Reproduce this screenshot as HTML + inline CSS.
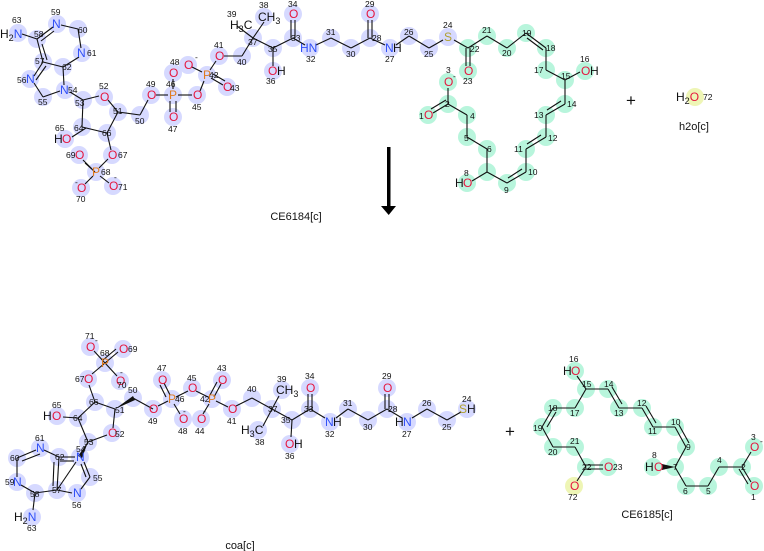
<!DOCTYPE html>
<html><head><meta charset="utf-8"><style>
html,body{margin:0;padding:0;background:#fff;}
svg{display:block;font-family:"Liberation Sans","DejaVu Sans",sans-serif;}
.b line{stroke:#111;stroke-width:1.1;}
.hb circle{fill:#d6d9ff;}
.hg circle{fill:#b8f5dc;}
.n{font-size:8.5px;fill:#111;}
.o{font-size:12px;fill:#e5173f;}
.N{font-size:12px;fill:#3050f8;}
.P{font-size:12px;fill:#e07a1f;}
.S{font-size:12px;fill:#b0a030;}
.k{font-size:12px;fill:#111;}
.plus{font-size:17px;fill:#111;}
.lab{font-size:11px;fill:#111;}
</style></head><body>
<svg width="764" height="551" viewBox="0 0 764 551">
<g class="hb">
<circle cx="18" cy="33" r="9"/><circle cx="37" cy="39" r="9"/><circle cx="57" cy="24" r="9"/><circle cx="78" cy="29" r="9"/><circle cx="82" cy="53" r="9"/><circle cx="63" cy="67" r="9"/><circle cx="43" cy="62" r="9"/><circle cx="30" cy="79" r="9"/><circle cx="43" cy="97" r="9"/><circle cx="65" cy="90" r="9"/><circle cx="83" cy="100" r="9"/><circle cx="104" cy="97" r="9"/><circle cx="118" cy="112" r="9"/><circle cx="140" cy="115" r="9"/><circle cx="151" cy="95" r="9"/><circle cx="173" cy="95" r="9"/><circle cx="173" cy="117" r="9"/><circle cx="173" cy="73" r="9"/><circle cx="197" cy="95" r="9"/><circle cx="207" cy="75" r="9"/><circle cx="227" cy="87" r="9"/><circle cx="188" cy="65" r="9"/><circle cx="219" cy="56" r="9"/><circle cx="242" cy="56" r="9"/><circle cx="253" cy="38" r="9"/><circle cx="264" cy="17" r="9"/><circle cx="273" cy="48" r="9"/><circle cx="273" cy="71" r="9"/><circle cx="293" cy="38" r="9"/><circle cx="293" cy="14" r="9"/><circle cx="310" cy="48" r="9"/><circle cx="331" cy="38" r="9"/><circle cx="351" cy="48" r="9"/><circle cx="370" cy="38" r="9"/><circle cx="370" cy="14" r="9"/><circle cx="390" cy="48" r="9"/><circle cx="409" cy="36" r="9"/><circle cx="429" cy="48" r="9"/><circle cx="448" cy="37" r="9"/><circle cx="82" cy="127" r="9"/><circle cx="65" cy="139" r="9"/><circle cx="107" cy="133" r="9"/><circle cx="112" cy="155" r="9"/><circle cx="96" cy="172" r="9"/><circle cx="79" cy="155" r="9"/><circle cx="81" cy="188" r="9"/><circle cx="113" cy="186" r="9"/>
</g>
<g class="hg">
<circle cx="468" cy="48" r="9"/><circle cx="468" cy="71" r="9"/><circle cx="487" cy="36" r="9"/><circle cx="507" cy="48" r="9"/><circle cx="526" cy="33" r="9"/><circle cx="546" cy="48" r="9"/><circle cx="546" cy="70" r="9"/><circle cx="565" cy="80" r="9"/><circle cx="585" cy="71" r="9"/><circle cx="565" cy="104" r="9"/><circle cx="546" cy="115" r="9"/><circle cx="546" cy="137" r="9"/><circle cx="526" cy="149" r="9"/><circle cx="526" cy="172" r="9"/><circle cx="507" cy="183" r="9"/><circle cx="487" cy="172" r="9"/><circle cx="467" cy="183" r="9"/><circle cx="487" cy="149" r="9"/><circle cx="467" cy="137" r="9"/><circle cx="467" cy="115" r="9"/><circle cx="448" cy="104" r="9"/><circle cx="428" cy="115" r="9"/><circle cx="448" cy="82" r="9"/>
</g>
<circle cx="695" cy="97" r="9" fill="#eef5b5"/>
<g class="hb">
<circle cx="90" cy="347" r="9"/><circle cx="123" cy="349" r="9"/><circle cx="105" cy="363" r="9"/><circle cx="120" cy="381" r="9"/><circle cx="88" cy="379" r="9"/><circle cx="95" cy="402" r="9"/><circle cx="115" cy="409" r="9"/><circle cx="133" cy="398" r="9"/><circle cx="153" cy="409" r="9"/><circle cx="172" cy="399" r="9"/><circle cx="162" cy="380" r="9"/><circle cx="183" cy="419" r="9"/><circle cx="192" cy="388" r="9"/><circle cx="212" cy="399" r="9"/><circle cx="222" cy="380" r="9"/><circle cx="201" cy="419" r="9"/><circle cx="232" cy="409" r="9"/><circle cx="252" cy="398" r="9"/><circle cx="272" cy="409" r="9"/><circle cx="282" cy="390" r="9"/><circle cx="258" cy="430" r="9"/><circle cx="292" cy="420" r="9"/><circle cx="290" cy="444" r="9"/><circle cx="310" cy="409" r="9"/><circle cx="310" cy="388" r="9"/><circle cx="330" cy="422" r="9"/><circle cx="348" cy="409" r="9"/><circle cx="368" cy="420" r="9"/><circle cx="387" cy="409" r="9"/><circle cx="387" cy="388" r="9"/><circle cx="407" cy="422" r="9"/><circle cx="427" cy="409" r="9"/><circle cx="447" cy="420" r="9"/><circle cx="467" cy="409" r="9"/><circle cx="78" cy="418" r="9"/><circle cx="57" cy="416" r="9"/><circle cx="112" cy="433" r="9"/><circle cx="88" cy="442" r="9"/><circle cx="80" cy="457" r="9"/><circle cx="59" cy="457" r="9"/><circle cx="40" cy="448" r="9"/><circle cx="17" cy="458" r="9"/><circle cx="17" cy="482" r="9"/><circle cx="35" cy="493" r="9"/><circle cx="57" cy="490" r="9"/><circle cx="77" cy="493" r="9"/><circle cx="90" cy="477" r="9"/><circle cx="32" cy="517" r="9"/>
</g>
<g class="hg">
<circle cx="575" cy="371" r="9"/><circle cx="586" cy="389" r="9"/><circle cx="608" cy="389" r="9"/><circle cx="619" cy="408" r="9"/><circle cx="642" cy="408" r="9"/><circle cx="653" cy="427" r="9"/><circle cx="675" cy="427" r="9"/><circle cx="686" cy="447" r="9"/><circle cx="675" cy="467" r="9"/><circle cx="653" cy="467" r="9"/><circle cx="686" cy="486" r="9"/><circle cx="708" cy="486" r="9"/><circle cx="719" cy="467" r="9"/><circle cx="742" cy="467" r="9"/><circle cx="754" cy="447" r="9"/><circle cx="754" cy="486" r="9"/><circle cx="575" cy="408" r="9"/><circle cx="553" cy="408" r="9"/><circle cx="542" cy="427" r="9"/><circle cx="553" cy="447" r="9"/><circle cx="575" cy="447" r="9"/><circle cx="586" cy="467" r="9"/><circle cx="608" cy="467" r="9"/>
</g>
<circle cx="574" cy="486" r="9" fill="#eef5b5"/>

<g class="b">
<line x1="22" y1="34" x2="37" y2="39"/><line x1="37" y1="39" x2="53" y2="27"/><line x1="41" y1="41" x2="54" y2="31"/><line x1="61" y1="25" x2="78" y2="29"/><line x1="78" y1="29" x2="81" y2="48"/><line x1="79" y1="57" x2="63" y2="67"/><line x1="63" y1="67" x2="43" y2="62"/><line x1="37" y1="39" x2="43" y2="62"/><line x1="42" y1="44" x2="47" y2="60"/><line x1="43" y1="62" x2="34" y2="76"/><line x1="46" y1="66" x2="36" y2="80"/><line x1="34" y1="83" x2="43" y2="97"/><line x1="43" y1="97" x2="60" y2="91"/><line x1="63" y1="67" x2="64" y2="85"/>
<line x1="70" y1="92" x2="83" y2="100"/><line x1="83" y1="100" x2="99" y2="96"/><line x1="108" y1="100" x2="118" y2="112"/><line x1="83" y1="100" x2="82" y2="127"/><line x1="82" y1="127" x2="107" y2="133"/><line x1="107" y1="133" x2="118" y2="112"/><line x1="118" y1="112" x2="140" y2="115"/><line x1="140" y1="115" x2="148" y2="100"/><line x1="156" y1="95" x2="168" y2="95"/><line x1="170" y1="101" x2="170" y2="112"/><line x1="176" y1="101" x2="176" y2="112"/><line x1="173" y1="89" x2="173" y2="79"/><line x1="178" y1="95" x2="192" y2="95"/><line x1="200" y1="91" x2="204" y2="81"/><line x1="202" y1="72" x2="192" y2="67"/><line x1="211" y1="78" x2="223" y2="85"/><line x1="213" y1="74" x2="225" y2="81"/><line x1="210" y1="70" x2="216" y2="61"/><line x1="224" y1="56" x2="242" y2="56"/><line x1="242" y1="56" x2="253" y2="38"/><line x1="253" y1="38" x2="264" y2="22"/><line x1="253" y1="38" x2="237" y2="26"/><line x1="253" y1="38" x2="273" y2="48"/><line x1="273" y1="48" x2="273" y2="66"/><line x1="273" y1="48" x2="293" y2="38"/><line x1="291" y1="38" x2="291" y2="20"/><line x1="295" y1="38" x2="295" y2="20"/><line x1="293" y1="38" x2="305" y2="45"/><line x1="316" y1="45" x2="331" y2="38"/><line x1="331" y1="38" x2="351" y2="48"/><line x1="351" y1="48" x2="370" y2="38"/><line x1="368" y1="38" x2="368" y2="20"/><line x1="372" y1="38" x2="372" y2="20"/><line x1="370" y1="38" x2="385" y2="45"/><line x1="396" y1="45" x2="409" y2="36"/><line x1="409" y1="36" x2="429" y2="48"/><line x1="429" y1="48" x2="443" y2="40"/><line x1="454" y1="40" x2="468" y2="48"/>
<line x1="86" y1="128" x2="72" y2="137"/><line x1="107" y1="133" x2="111" y2="150"/><line x1="108" y1="159" x2="99" y2="168"/><line x1="92" y1="169" x2="83" y2="160"/><line x1="95" y1="172" x2="85" y2="163"/><line x1="93" y1="176" x2="85" y2="184"/><line x1="100" y1="176" x2="109" y2="183"/>
<line x1="466" y1="48" x2="466" y2="66"/><line x1="470" y1="48" x2="470" y2="66"/><line x1="468" y1="48" x2="487" y2="36"/><line x1="487" y1="36" x2="507" y2="48"/><line x1="507" y1="48" x2="526" y2="33"/><line x1="526" y1="33" x2="546" y2="48"/><line x1="527" y1="38" x2="543" y2="50"/><line x1="546" y1="48" x2="546" y2="70"/><line x1="546" y1="70" x2="565" y2="80"/><line x1="565" y1="80" x2="580" y2="72"/><line x1="565" y1="80" x2="565" y2="104"/><line x1="565" y1="104" x2="546" y2="115"/><line x1="561" y1="101" x2="547" y2="110"/><line x1="546" y1="115" x2="546" y2="137"/><line x1="546" y1="137" x2="526" y2="149"/><line x1="541" y1="135" x2="527" y2="144"/><line x1="526" y1="149" x2="526" y2="172"/><line x1="526" y1="172" x2="507" y2="183"/><line x1="522" y1="169" x2="508" y2="178"/><line x1="507" y1="183" x2="487" y2="172"/><line x1="487" y1="172" x2="472" y2="181"/><line x1="487" y1="172" x2="487" y2="149"/><line x1="487" y1="149" x2="467" y2="137"/><line x1="467" y1="137" x2="467" y2="115"/><line x1="467" y1="115" x2="448" y2="104"/><line x1="448" y1="104" x2="433" y2="113"/><line x1="446" y1="100" x2="431" y2="109"/><line x1="448" y1="104" x2="448" y2="88"/>
<line x1="94" y1="351" x2="105" y2="363"/><line x1="105" y1="363" x2="118" y2="352"/><line x1="103" y1="360" x2="116" y2="349"/><line x1="105" y1="363" x2="117" y2="376"/><line x1="105" y1="363" x2="92" y2="374"/><line x1="89" y1="385" x2="95" y2="402"/><line x1="95" y1="402" x2="115" y2="409"/><line x1="95" y1="402" x2="78" y2="418"/><line x1="78" y1="418" x2="63" y2="417"/><line x1="78" y1="418" x2="88" y2="442"/><line x1="88" y1="442" x2="107" y2="435"/><line x1="113" y1="428" x2="115" y2="409"/><line x1="88" y1="442" x2="82" y2="452"/><line x1="153" y1="409" x2="133" y2="398"/><line x1="158" y1="406" x2="168" y2="401"/><line x1="166" y1="397" x2="160" y2="385"/><line x1="170" y1="395" x2="164" y2="383"/><line x1="174" y1="404" x2="180" y2="414"/><line x1="176" y1="397" x2="188" y2="391"/><line x1="196" y1="391" x2="208" y2="397"/><line x1="210" y1="395" x2="217" y2="382"/><line x1="214" y1="397" x2="221" y2="384"/><line x1="209" y1="404" x2="203" y2="414"/><line x1="216" y1="401" x2="228" y2="407"/><line x1="236" y1="406" x2="252" y2="398"/><line x1="252" y1="398" x2="272" y2="409"/><line x1="272" y1="409" x2="279" y2="396"/><line x1="272" y1="409" x2="263" y2="426"/><line x1="272" y1="409" x2="292" y2="420"/><line x1="292" y1="420" x2="291" y2="437"/><line x1="292" y1="420" x2="310" y2="409"/><line x1="308" y1="409" x2="308" y2="394"/><line x1="312" y1="409" x2="312" y2="394"/><line x1="310" y1="409" x2="325" y2="418"/><line x1="336" y1="418" x2="348" y2="409"/><line x1="348" y1="409" x2="368" y2="420"/><line x1="368" y1="420" x2="387" y2="409"/><line x1="385" y1="409" x2="385" y2="394"/><line x1="389" y1="409" x2="389" y2="394"/><line x1="387" y1="409" x2="402" y2="418"/><line x1="412" y1="418" x2="427" y2="409"/><line x1="427" y1="409" x2="447" y2="420"/><line x1="447" y1="420" x2="461" y2="412"/>
<line x1="76" y1="462" x2="57" y2="490"/><line x1="59" y1="457" x2="75" y2="457"/><line x1="60" y1="461" x2="74" y2="461"/><line x1="59" y1="457" x2="44" y2="450"/><line x1="36" y1="450" x2="17" y2="458"/><line x1="40" y1="454" x2="22" y2="461"/><line x1="17" y1="458" x2="17" y2="477"/><line x1="21" y1="485" x2="35" y2="493"/><line x1="35" y1="493" x2="57" y2="490"/><line x1="57" y1="490" x2="59" y2="457"/><line x1="53" y1="486" x2="54" y2="462"/><line x1="57" y1="490" x2="72" y2="493"/><line x1="81" y1="489" x2="90" y2="477"/><line x1="90" y1="477" x2="84" y2="462"/><line x1="86" y1="477" x2="81" y2="464"/><line x1="35" y1="493" x2="33" y2="510"/>
<line x1="577" y1="376" x2="586" y2="389"/><line x1="586" y1="389" x2="608" y2="389"/><line x1="608" y1="389" x2="619" y2="408"/><line x1="612" y1="387" x2="622" y2="404"/><line x1="619" y1="408" x2="642" y2="408"/><line x1="642" y1="408" x2="653" y2="427"/><line x1="646" y1="406" x2="656" y2="423"/><line x1="653" y1="427" x2="675" y2="427"/><line x1="675" y1="427" x2="686" y2="447"/><line x1="679" y1="425" x2="689" y2="443"/><line x1="686" y1="447" x2="675" y2="467"/><line x1="675" y1="467" x2="686" y2="486"/><line x1="686" y1="486" x2="708" y2="486"/><line x1="708" y1="486" x2="719" y2="467"/><line x1="719" y1="467" x2="742" y2="467"/><line x1="742" y1="467" x2="751" y2="452"/><line x1="742" y1="467" x2="751" y2="482"/><line x1="739" y1="469" x2="748" y2="484"/><line x1="586" y1="389" x2="575" y2="408"/><line x1="575" y1="408" x2="553" y2="408"/><line x1="553" y1="408" x2="542" y2="427"/><line x1="556" y1="412" x2="547" y2="427"/><line x1="542" y1="427" x2="553" y2="447"/><line x1="553" y1="447" x2="575" y2="447"/><line x1="575" y1="447" x2="586" y2="467"/><line x1="586" y1="465" x2="603" y2="465"/><line x1="586" y1="469" x2="603" y2="469"/><line x1="586" y1="467" x2="577" y2="481"/>
</g>
<polygon points="675,467 662,464 662,470" fill="#111"/>
<polygon points="115,409 133,396 135,400" fill="#111"/>
<polygon points="88,442 78,456 82,458" fill="#111"/>
<rect x="387" y="147" width="3.5" height="61" fill="#000"/>
<polygon points="381,206 396,206 388.7,215" fill="#000"/>
<text x="631" y="106" class="plus" text-anchor="middle">+</text>
<text x="510" y="437" class="plus" text-anchor="middle">+</text>

<text x="0" y="38" class="k">H<tspan font-size="9" dy="3">2</tspan><tspan class="N" dy="-3" fill="#3050f8">N</tspan></text>
<text x="52" y="28" class="N">N</text><text x="77" y="57" class="N">N</text><text x="26" y="83" class="N">N</text><text x="60" y="94" class="N">N</text>
<text x="100" y="101" class="o">O</text><text x="147" y="99" class="o">O</text><text x="169" y="99" class="P">P</text><text x="169" y="121" class="o">O</text><text x="169" y="77" class="o">O</text><text x="193" y="99" class="o">O</text><text x="203" y="79" class="P">P</text><text x="223" y="91" class="o">O</text><text x="184" y="69" class="o">O</text><text x="215" y="60" class="o">O</text>
<text x="230" y="29" class="k">H<tspan font-size="9" dy="3">3</tspan><tspan dy="-3">C</tspan></text>
<text x="258" y="21" class="k">CH<tspan font-size="9" dy="3">3</tspan></text>
<text x="268" y="75" class="o">O</text><text x="277" y="75" class="k">H</text>
<text x="289" y="18" class="o">O</text><text x="300" y="52" class="N">HN</text><text x="366" y="18" class="o">O</text><text x="385" y="52" class="N">N</text><text x="393" y="52" class="k">H</text><text x="444" y="41" class="S">S</text>
<text x="54" y="143" class="k">H</text><text x="62" y="143" class="o">O</text><text x="108" y="159" class="o">O</text><text x="92" y="176" class="P">P</text><text x="75" y="159" class="o">O</text><text x="77" y="192" class="o">O</text><text x="109" y="190" class="o">O</text>
<text x="464" y="75" class="o">O</text><text x="581" y="75" class="o">O</text><text x="590" y="75" class="k">H</text><text x="455" y="187" class="k">H</text><text x="463" y="187" class="o">O</text><text x="424" y="119" class="o">O</text><text x="444" y="86" class="o">O</text>
<text x="676" y="101" class="k">H<tspan font-size="9" dy="3">2</tspan><tspan class="o" dy="-3" fill="#e5173f">O</tspan></text>
<g class="n">
<text x="12" y="23">63</text><text x="34" y="37">58</text><text x="51" y="15">59</text><text x="78" y="33">60</text><text x="87" y="56">61</text><text x="62" y="70">62</text><text x="35" y="64">57</text><text x="17" y="83">56</text><text x="38" y="105">55</text><text x="68" y="93">54</text><text x="75" y="106">53</text><text x="99" y="89">52</text><text x="113" y="114">51</text><text x="135" y="124">50</text><text x="146" y="87">49</text><text x="166" y="87">46</text><text x="168" y="132">47</text><text x="170" y="65">48</text><text x="192" y="110">45</text><text x="209" y="78">42</text><text x="230" y="91">43</text><text x="214" y="48">41</text><text x="237" y="65">40</text><text x="248" y="45">37</text><text x="259" y="8">38</text><text x="227" y="17">39</text><text x="268" y="52">35</text><text x="266" y="84">36</text><text x="291" y="41">33</text><text x="288" y="7">34</text><text x="306" y="62">32</text><text x="326" y="35">31</text><text x="346" y="57">30</text><text x="372" y="41">28</text><text x="365" y="7">29</text><text x="385" y="62">27</text><text x="404" y="35">26</text><text x="424" y="57">25</text><text x="443" y="28">24</text>
<text x="55" y="131">65</text><text x="74" y="131">64</text><text x="102" y="136">66</text><text x="118" y="158">67</text><text x="101" y="175">68</text><text x="66" y="158">69</text><text x="76" y="202">70</text><text x="118" y="190">71</text>
<text x="470" y="52">22</text><text x="463" y="84">23</text><text x="482" y="33">21</text><text x="502" y="56">20</text><text x="522" y="36">19</text><text x="546" y="51">18</text><text x="534" y="73">17</text><text x="561" y="79">15</text><text x="580" y="62">16</text><text x="567" y="107">14</text><text x="534" y="118">13</text><text x="548" y="141">12</text><text x="514" y="152">11</text><text x="528" y="175">10</text><text x="504" y="193">9</text><text x="464" y="176">8</text><text x="487" y="152">6</text><text x="464" y="141">5</text><text x="470" y="119">4</text><text x="445" y="107">2</text><text x="419" y="119">1</text><text x="446" y="73">3</text><text x="703" y="100">72</text>
</g>
<text x="453" y="79" class="n">-</text>
<text x="195" y="60" class="n">-</text>
<text x="75" y="185" class="n">-</text>
<text x="114" y="180" class="n">-</text>
<text x="296" y="220" class="lab" text-anchor="middle">CE6184[c]</text>
<text x="694" y="130" class="lab" text-anchor="middle">h2o[c]</text>

<text x="86" y="351" class="o">O</text><text x="119" y="353" class="o">O</text><text x="101" y="367" class="P">P</text><text x="116" y="385" class="o">O</text><text x="84" y="383" class="o">O</text>
<text x="43" y="420" class="k">H</text><text x="52" y="420" class="o">O</text>
<text x="149" y="413" class="o">O</text><text x="168" y="403" class="P">P</text><text x="158" y="384" class="o">O</text><text x="179" y="423" class="o">O</text><text x="188" y="392" class="o">O</text><text x="208" y="403" class="P">P</text><text x="218" y="384" class="o">O</text><text x="197" y="423" class="o">O</text><text x="228" y="413" class="o">O</text>
<text x="276" y="394" class="k">CH<tspan font-size="9" dy="3">3</tspan></text>
<text x="241" y="434" class="k">H<tspan font-size="9" dy="3">3</tspan><tspan dy="-3">C</tspan></text>
<text x="285" y="448" class="o">O</text><text x="294" y="448" class="k">H</text>
<text x="306" y="392" class="o">O</text><text x="325" y="426" class="N">N</text><text x="333" y="426" class="k">H</text><text x="383" y="392" class="o">O</text><text x="395" y="426" class="k">H</text><text x="403" y="426" class="N">N</text><text x="459" y="413" class="S">S</text><text x="467" y="413" class="k">H</text>
<text x="108" y="437" class="o">O</text><text x="76" y="461" class="N">N</text><text x="36" y="452" class="N">N</text><text x="13" y="486" class="N">N</text><text x="73" y="497" class="N">N</text>
<text x="14" y="521" class="k">H<tspan font-size="9" dy="3">2</tspan><tspan class="N" dy="-3" fill="#3050f8">N</tspan></text>
<g class="n">
<text x="85" y="339">71</text><text x="128" y="352">69</text><text x="100" y="356">68</text><text x="117" y="388">70</text><text x="75" y="382">67</text><text x="89" y="405">66</text><text x="115" y="413">51</text><text x="128" y="393">50</text><text x="148" y="424">49</text><text x="175" y="402">46</text><text x="157" y="371">47</text><text x="178" y="434">48</text><text x="187" y="381">45</text><text x="200" y="402">42</text><text x="217" y="371">43</text><text x="195" y="434">44</text><text x="227" y="424">41</text><text x="247" y="392">40</text><text x="268" y="412">37</text><text x="277" y="382">39</text><text x="255" y="445">38</text><text x="281" y="423">35</text><text x="285" y="459">36</text><text x="304" y="412">33</text><text x="305" y="379">34</text><text x="325" y="437">32</text><text x="343" y="406">31</text><text x="363" y="430">30</text><text x="388" y="412">28</text><text x="382" y="379">29</text><text x="402" y="437">27</text><text x="422" y="406">26</text><text x="442" y="430">25</text><text x="462" y="402">24</text>
<text x="52" y="408">65</text><text x="73" y="421">64</text><text x="115" y="437">52</text><text x="84" y="445">53</text><text x="76" y="452">54</text><text x="55" y="460">62</text><text x="35" y="441">61</text><text x="10" y="461">60</text><text x="5" y="485">59</text><text x="30" y="497">58</text><text x="52" y="493">57</text><text x="72" y="508">56</text><text x="93" y="481">55</text><text x="27" y="531">63</text>
</g>
<text x="95" y="343" class="n">-</text><text x="120" y="375" class="n">-</text><text x="183" y="414" class="n">-</text><text x="203" y="414" class="n">-</text>
<text x="240" y="549" class="lab" text-anchor="middle">coa[c]</text>

<text x="563" y="375" class="k">H</text><text x="571" y="375" class="o">O</text>
<text x="645" y="471" class="k">H</text><text x="654" y="471" class="o">O</text>
<text x="604" y="471" class="o">O</text><text x="570" y="490" class="o">O</text><text x="750" y="451" class="o">O</text><text x="750" y="490" class="o">O</text>
<g class="n">
<text x="569" y="362">16</text><text x="582" y="387">15</text><text x="604" y="387">14</text><text x="614" y="416">13</text><text x="637" y="406">12</text><text x="648" y="434">11</text><text x="671" y="425">10</text><text x="686" y="450">9</text><text x="673" y="470">7</text><text x="652" y="458">8</text><text x="683" y="494">6</text><text x="706" y="494">5</text><text x="717" y="463">4</text><text x="741" y="470">2</text><text x="751" y="440">3</text><text x="751" y="500">1</text><text x="570" y="416">17</text><text x="548" y="411">18</text><text x="533" y="431">19</text><text x="548" y="455">20</text><text x="570" y="444">21</text><text x="582" y="470">22</text><text x="613" y="470">23</text><text x="568" y="500">72</text>
</g>
<text x="760" y="444" class="n">-</text>
<text x="647" y="518" class="lab" text-anchor="middle">CE6185[c]</text>
</svg>
</body></html>
